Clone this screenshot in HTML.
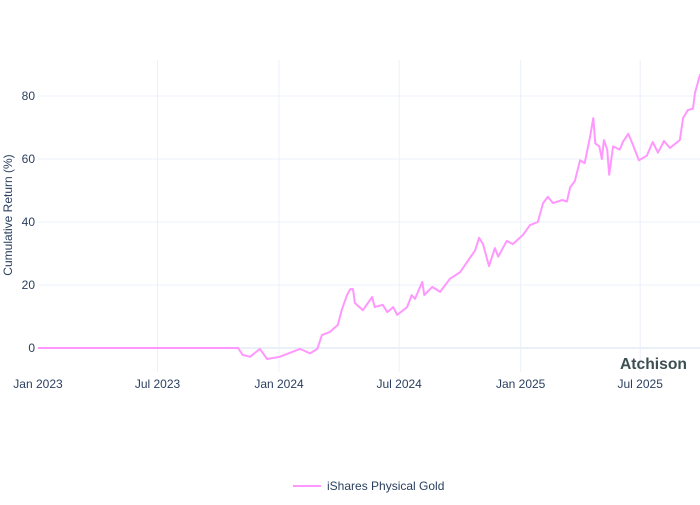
<!DOCTYPE html>
<html><head><meta charset="utf-8"><style>
body{margin:0;background:#fff;font-family:"Liberation Sans",sans-serif}
svg text{font-family:"Liberation Sans",sans-serif}
</style></head><body>
<svg id="chart" width="700" height="500" xmlns="http://www.w3.org/2000/svg">
<g id="grid"></g>
<g id="axes"></g>
<text x="0" y="0" transform="translate(12,215) rotate(-90)" text-anchor="middle" font-size="12" fill="#2a3f5f">Cumulative Return (%)</text>
<text x="620" y="369" font-size="16" font-weight="bold" fill="#3d4f52" textLength="67" lengthAdjust="spacingAndGlyphs">Atchison</text>
<g id="series"></g>
<g>
<line x1="293" y1="486" x2="321" y2="486" stroke="#ff97ff" stroke-width="2"/>
<text x="327" y="490" font-size="12" fill="#2a3f5f">iShares Physical Gold</text>
</g>
</svg>
<script>
// days since 2023-01-01
const days = [0,303,310,321,336,347,366,379,397,412,423,430,442,454,460,468,473,477,480,492,506,510,522,529,538,544,559,566,571,582,585,597,609,624,639,662,668,674,683,692,697,710,719,735,745,757,765,772,780,794,801,806,813,821,828,836,841,844,850,854,857,862,865,871,881,886,894,901,910,922,931,939,948,957,972,977,984,992,995,1003];
const values = [0,0,-2.2,-2.8,-0.3,-3.5,-2.8,-1.7,-0.3,-1.7,-0.3,4.1,5.1,7.3,12,16.8,18.7,18.7,14.3,12,16.2,13,13.7,11.4,13,10.5,13,16.8,15.6,21,16.8,19.4,17.8,22,24,31,35,33,26,31.7,29,34,33,36,39,40,46,48,46,47,46.5,51,53,59.6,58.7,67,73,65,64,60,66,63,55,64,63,65.5,68,64.5,59.6,61,65.4,62,65.7,63.5,66,73,75.5,76,81,87];
const yTicks = [0,20,40,60,80];
const xTickDays = [0,181,365,547,731,912];
const xTickLabels = ["Jan 2023","Jul 2023","Jan 2024","Jul 2024","Jan 2025","Jul 2025"];

const NS="http://www.w3.org/2000/svg";
const X = d => 38 + d*0.6603;
const Y = v => 348 - v*3.15;
function mk(tag, attrs, parent){const e=document.createElementNS(NS,tag);for(const k in attrs)e.setAttribute(k,attrs[k]);parent.appendChild(e);return e;}
const grid=document.getElementById('grid'), axes=document.getElementById('axes'), series=document.getElementById('series');
yTicks.forEach(v=>{
  const l=mk('line',{x1:38,x2:700,y1:Y(v),y2:Y(v),stroke:'#ebf0f8','stroke-width':v===0?2:1},grid);
  
  
  const t=mk('text',{x:35,y:Y(v)+4,'text-anchor':'end','font-size':12,fill:'#2a3f5f'},axes);
  
  
  t.textContent=v;
});
xTickDays.forEach((d,i)=>{
  if(i>0){const l=mk('line',{x1:X(d),x2:X(d),y1:60,y2:372,stroke:'#ebf0f8','stroke-width':1},grid);
  
  }
  const t=mk('text',{x:X(d),y:388,'text-anchor':'middle','font-size':12,fill:'#2a3f5f'},axes);
  
  
  t.textContent=xTickLabels[i];
});
const pts=days.map((d,i)=>X(d).toFixed(1)+','+Y(values[i]).toFixed(1)).join(' ');
const pl=mk('polyline',{points:pts,fill:'none',stroke:'#ff97ff','stroke-width':2,'stroke-linejoin':'round'},series);


</script>
</body></html>
